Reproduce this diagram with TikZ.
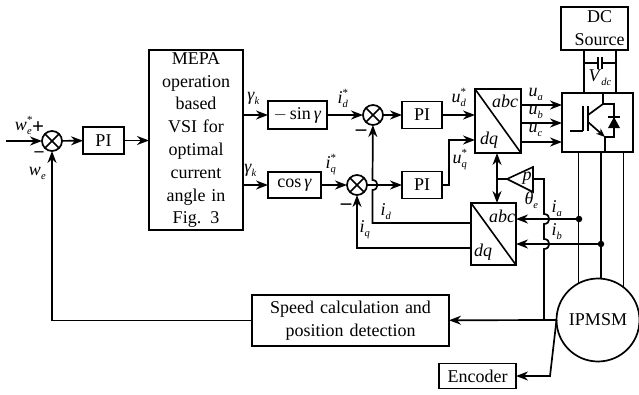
\documentclass[tikz,border=0pt]{standalone}
\usepackage{fontspec}
\setmainfont{Liberation Serif}
\usetikzlibrary{arrows.meta}
\newcommand{\sig}[3]{\textit{#1}\rlap{\raisebox{-4pt}{\fontsize{10.5}{10.5}\selectfont\textit{#2}}}\rlap{\raisebox{7pt}{\fontsize{11}{11}\selectfont #3}}}
\tikzset{
  blockbox/.style={draw,line width=1.7pt,inner sep=0pt,outer sep=0pt,align=center,text width=#1},
  sumnode/.style={draw,circle,line width=1.7pt,minimum size=20pt,inner sep=0pt,outer sep=0pt,
    path picture={\draw[line width=1.6pt] (path picture bounding box.north west) -- (path picture bounding box.south east)
      (path picture bounding box.north east) -- (path picture bounding box.south west);}},
  parkbox/.style={draw,line width=1.7pt,inner sep=0pt,outer sep=0pt,
    path picture={\draw[line width=1.6pt] (path picture bounding box.north west) -- (path picture bounding box.south east);}},
  dotnode/.style={circle,fill=black,minimum size=6.5pt,inner sep=0pt,outer sep=0pt},
  lab/.style={inner sep=0pt,outer sep=0pt},
  signlab/.style={inner sep=0pt,outer sep=0pt,font=\fontsize{21}{21}\selectfont\bfseries},
  wire/.style={line width=1.7pt},
  arrowwire/.style={wire,-{Stealth[length=12pt,width=9pt]}}
}
\begin{document}
\begin{tikzpicture}[x=1pt,y=-1pt,font=\fontsize{18}{22.8}\selectfont]
  \useasboundingbox (0,0) rectangle (639,394);
  \node[sumnode] (sumSpeed) at (52,141) {};
  \node[blockbox=41pt,minimum height=27pt] (piSpeed) at (103.5,140.5) {PI};
  \node[blockbox=94pt,minimum height=180pt] (mepa) at (196,140) {MEPA\\operation\\based\\VSI for\\optimal\\current\\angle in\\Fig. 3};
  \node[blockbox=59pt,minimum height=28pt] (sinBox) at (297.5,115) {$-$\,sin\,\textit{γ}};
  \node[blockbox=53pt,minimum height=26pt] (cosBox) at (294.5,185) {cos\,\textit{γ}};
  \node[sumnode] (sumD) at (373,115) {};
  \node[sumnode] (sumQ) at (357,185) {};
  \node[blockbox=40pt,minimum height=27pt] (piD) at (422,115) {PI};
  \node[blockbox=40pt,minimum height=27pt] (piQ) at (422,185) {PI};
  \node[parkbox,minimum width=46pt,minimum height=64pt] (parkInv) at (498,121) {};
  \node[parkbox,minimum width=45pt,minimum height=62pt] (parkFwd) at (493.5,234) {};
  \node[draw,line width=1.7pt,inner sep=0pt,outer sep=0pt,minimum width=71pt,minimum height=59pt] (inverter) at (597.5,122.5) {};
  \node[blockbox=67pt,minimum height=43pt] (dcSource) at (594.5,28.5) {\hspace*{10pt}DC\\\hspace*{10pt}Source};
  \node[blockbox=197pt,minimum height=51pt] (speedCalc) at (350.5,320.5) {Speed calculation and\\position detection};
  \node[blockbox=77pt,minimum height=25pt] (encoder) at (477.5,376) {Encoder};
  \node[draw,circle,line width=1.7pt,minimum size=83pt,inner sep=0pt,outer sep=0pt] (motor) at (598,320) {IPMSM};
  \node[dotnode] (dotA) at (579,219) {};
  \node[dotnode] (dotB) at (601,244) {};
  \coordinate (inStart) at (6,141);
  \coordinate (gainApex) at (507,179);
  \coordinate (gainTop) at (533,167);
  \coordinate (gainBot) at (533,192);
  \coordinate (gainOut) at (533,179);
  \coordinate (jointSpeed) at (544,320);
  \coordinate (kneeEnc) at (550,376);
  \coordinate (biTop) at (497,153);
  \coordinate (biBot) at (497,203);
  \draw[line width=1.6pt] (gainApex) -- (gainTop) -- (gainBot) -- cycle;
  \begin{scope}[arrowwire]
    \draw (inStart) -- (sumSpeed);
    \draw (sumSpeed) -- (piSpeed);
    \draw (piSpeed) -- (mepa.west |- piSpeed);
    \draw (mepa.east |- sinBox) -- (sinBox);
    \draw (mepa.east |- cosBox) -- (cosBox);
    \draw (sinBox) -- (sumD);
    \draw (cosBox) -- (sumQ);
    \draw (sumD) -- (piD);
    \draw (sumQ) -- (piQ);
    \draw (piD) -- (parkInv.west |- piD);
    \draw (piQ.east) -- ++(7,0) |- (parkInv.west |- 0,140);
    \draw (parkInv.east |- 0,105) -- (inverter.west |- 0,105);
    \draw (parkInv.east |- 0,123) -- (inverter.west |- 0,123);
    \draw (parkInv.east |- 0,142) -- (inverter.west |- 0,142);
    \draw (dotA) -- (parkFwd.east |- dotA);
    \draw (dotB) -- (parkFwd.east |- dotB);
    \draw (parkFwd.west |- 0,223) -- (372.5,223) -- (372.5,190) .. controls (379,190) and (379,180) .. (372.5,180) -- (sumD);
    \draw (parkFwd.west |- 0,248) -| (sumQ);
    \draw (motor.west) -- (speedCalc);
    \draw (speedCalc.west) -| (sumSpeed);
    \draw (motor.west) -- (kneeEnc) -- (encoder);
    \draw[{Stealth[length=12pt,width=9pt]}-{Stealth[length=12pt,width=9pt]}] (biTop) -- (biBot);
  \end{scope}
  \begin{scope}[wire]
    \draw (gainApex) -- (497,179);
    \draw (gainOut) -- (544,179) -- (544,214) .. controls (551,214) and (551,224) .. (544,224) -- (544,239) .. controls (551,239) and (551,249) .. (544,249) -- (jointSpeed);
    \draw (dcSource.south -| 584,0) -- (inverter.north -| 584,0);
    \draw (dcSource.south -| 616,0) -- (inverter.north -| 616,0);
    \draw (584,63) -- (598,63) (598,57) -- (598,69);
    \draw (616,63) -- (602,63) (602,57) -- (602,69);
    \draw (motor.118 |- inverter.south) -- (motor.118);
    \draw (motor.86 |- inverter.south) -- (motor.86);
    \draw (motor.52 |- inverter.south) -- (motor.52);
    \draw (570,131) -- (583,131) (583,106) -- (583,131) (588,106) -- (588,131);
    \draw (588,115) -- (603,104) -- (603,93);
    \draw (603,104) -- (614,104) -- (614,137) -- (605,137) -- (605,152);
    \draw[-{Stealth[length=9pt,width=7pt]}] (588,122) -- (605,137);
    \draw (608,117) -- (620,117);
  \end{scope}
  \fill (608,128) -- (620,128) -- (614,117) -- cycle;
  \node[lab] (labAbcU) at (505,101) {\textit{abc}};
  \node[lab] (labDqU) at (489,140) {\textit{dq}};
  \node[lab] (labAbcL) at (502,216) {\textit{abc}};
  \node[lab] (labDqL) at (483,252) {\textit{dq}};
  \node[lab] (labP) at (527,178) {\textit{p}};
  \node[signlab] (labPlus) at (38,128) {+};
  \node[signlab,font=\fontsize{18}{18}\selectfont\bfseries] (labMinusA) at (39,154) {–};
  \node[signlab] (labMinusB) at (361,133) {–};
  \node[signlab] (labMinusC) at (346,207) {–};
  \node[lab] (labWref) at (21,125) {\sig{w}{e}{*}};
  \node[lab] (labW) at (35,173) {\sig{w}{e}{}};
  \node[lab] (labGammaD) at (251,98) {\sig{γ}{k}{}};
  \node[lab] (labGammaQ) at (248,170) {\sig{γ}{k}{}};
  \node[lab] (labIdRef) at (340,98) {\sig{i}{d}{*}};
  \node[lab] (labIqRef) at (328,165) {\sig{i}{q}{*}};
  \node[lab] (labUdRef) at (456,97) {\sig{u}{d}{*}};
  \node[lab] (labUqRef) at (457,160) {\sig{u}{q}{*}};
  \node[lab] (labId) at (383,212) {\sig{i}{d}{}};
  \node[lab] (labIq) at (362,230) {\sig{i}{q}{}};
  \node[lab] (labUa) at (533,94) {\sig{u}{a}{}};
  \node[lab] (labUb) at (533,112) {\sig{u}{b}{}};
  \node[lab] (labUc) at (533,130) {\sig{u}{c}{}};
  \node[lab] (labVdc) at (595,78) {\sig{V}{dc}{}};
  \node[lab] (labTheta) at (529,200) {\sig{θ}{e}{}};
  \node[lab] (labIa) at (554,209) {\sig{i}{a}{}};
  \node[lab] (labIb) at (554,232) {\sig{i}{b}{}};
\end{tikzpicture}
\end{document}
